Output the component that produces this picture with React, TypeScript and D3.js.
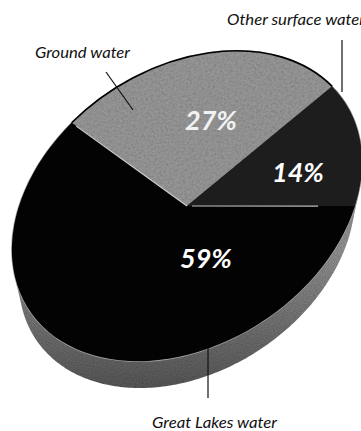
import React from "react";
import * as d3 from "d3";

// ---- data ----
const categories = ["Ground water", "Other surface water", "Great Lakes water"];
const values = [27, 14, 59];
const valueLabels = ["27%", "14%", "59%"];

// ---- styles / layout ----
const sliceColors = ["#a3a3a3", "#1d1d1d", "#030303"];
const W = 361;
const H = 431;
const CX = 187;
const CY = 206;
const RA = 189; // semi-major axis of the tilted disc
const RB = 138; // semi-minor axis
const TILT = (-33.4 * Math.PI) / 180;
const START = (-15.5 * Math.PI) / 180;
const DEPTH = 33; // drop of the bottom face
const BOTTOM_SCALE = 0.96; // perspective shrink of the bottom face
const R0 = 100;

const valueLabelPos: [number, number][] = [
  [211, 119],
  [298, 171],
  [206, 257],
];
const nameLabelPos: { x: number; y: number; len: number }[] = [
  { x: 35, y: 58, len: 95 },
  { x: 227, y: 25, len: 138 },
  { x: 152, y: 428, len: 125 },
];
const leaders: [number, number, number, number][] = [
  [106, 72, 133, 110],
  [342, 40, 342, 92],
  [208, 348, 208, 398],
];

const e1 = [Math.cos(TILT), Math.sin(TILT)];
const e2 = [-Math.sin(TILT), Math.cos(TILT)];
const k1 = RA / R0;
const k2 = RB / R0;
const mat = `matrix(${k1 * e1[0]},${k1 * e1[1]},${k2 * e2[0]},${k2 * e2[1]},${CX},${CY})`;

function project(x: number, y: number, s = 1, dy = 0): [number, number] {
  return [
    CX + s * (k1 * x * e1[0] + k2 * y * e2[0]),
    CY + dy + s * (k1 * x * e1[1] + k2 * y * e2[1]),
  ];
}

export default function App() {
  const pie = d3
    .pie<number>()
    .sort(null)
    .startAngle(START)
    .endAngle(START + 2 * Math.PI);
  const arcs = pie(values);
  const arcGen = d3.arc<d3.PieArcDatum<number>>().innerRadius(0).outerRadius(R0);
  const fullCircle = d3.arc()({
    innerRadius: 0,
    outerRadius: R0,
    startAngle: 0,
    endAngle: 2 * Math.PI,
  } as any) as string;
  const groundRim = d3.arc()({
    innerRadius: R0,
    outerRadius: R0,
    startAngle: arcs[0].startAngle,
    endAngle: arcs[0].endAngle,
  } as any) as string;

  // side wall: convex hull of top and (shrunken, lowered) bottom face outlines
  const pts: [number, number][] = [];
  for (let i = 0; i < 360; i++) {
    const a = (i * Math.PI) / 180;
    pts.push(project(R0 * Math.cos(a), R0 * Math.sin(a)));
    pts.push(project(R0 * Math.cos(a), R0 * Math.sin(a), BOTTOM_SCALE, DEPTH));
  }
  const hull = d3.polygonHull(pts) as [number, number][];
  const hullPath = "M" + hull.map((p) => p.join(",")).join("L") + "Z";

  const radial = (a: number, r: number) => project(r * R0 * Math.sin(a), -r * R0 * Math.cos(a));
  const b1 = radial(arcs[0].startAngle, 0.96);
  const b3 = radial(arcs[1].endAngle, 0.78);

  const font = "Lato, 'Open Sans', 'DejaVu Sans', sans-serif";

  return (
    <svg width={W} height={H} style={{ position: "absolute", left: 0, top: 0, background: "#fff" }}>
      <defs>
        <linearGradient id="band" gradientUnits="userSpaceOnUse" x1="0" y1="250" x2="0" y2="392">
          <stop offset="0" stopColor="#9a9a9a" />
          <stop offset="0.55" stopColor="#777" />
          <stop offset="1" stopColor="#5a5a5a" />
        </linearGradient>
        <filter id="grain" x="0" y="0" width="100%" height="100%">
          <feTurbulence type="fractalNoise" baseFrequency="0.9" numOctaves="1" seed="3" result="n" />
          <feColorMatrix in="n" type="saturate" values="0" result="g" />
          <feComposite in="g" in2="SourceGraphic" operator="in" result="gm" />
          <feBlend in="SourceGraphic" in2="gm" mode="multiply" />
        </filter>
      </defs>

      {/* side wall */}
      <path d={hullPath} fill="url(#band)" filter="url(#grain)" />

      {/* top face */}
      <path d={fullCircle} transform={mat} fill="#030303" stroke="#a8a8a8" strokeWidth={1.5} vectorEffect="non-scaling-stroke" />
      {arcs.map((a, i) => (
        <path
          key={categories[i]}
          d={arcGen(a) as string}
          transform={mat}
          fill={sliceColors[i]}
          filter={i === 0 ? "url(#grain)" : undefined}
        />
      ))}
      <path d={groundRim} transform={mat} fill="none" stroke="#000" strokeWidth={1.6} vectorEffect="non-scaling-stroke" />
      <line x1={CX} y1={CY} x2={b1[0]} y2={b1[1]} stroke="#d4d4d4" strokeWidth={1.2} />
      <line x1={CX + 5} y1={CY} x2={b3[0]} y2={b3[1]} stroke="#bdbdbd" strokeWidth={1.2} />

      {/* value labels */}
      {valueLabels.map((t, i) => (
        <text
          key={t}
          x={valueLabelPos[i][0]}
          y={valueLabelPos[i][1]}
          textAnchor="middle"
          dominantBaseline="central"
          fill={i === 0 ? "#f2f2f2" : "#fff"}
          fontFamily={font}
          fontWeight={700}
          fontStyle="italic"
          fontSize={27}
        >
          {t}
        </text>
      ))}

      {/* leader lines */}
      {leaders.map((l, i) => (
        <line key={i} x1={l[0]} y1={l[1]} x2={l[2]} y2={l[3]} stroke="#111" strokeWidth={1.2} />
      ))}

      {/* category labels */}
      {categories.map((c, i) => (
        <text
          key={c}
          x={nameLabelPos[i].x}
          y={nameLabelPos[i].y}
          fill="#111"
          fontFamily={font}
          fontStyle="italic"
          fontSize={16}
          textLength={nameLabelPos[i].len}
          lengthAdjust="spacingAndGlyphs"
        >
          {c}
        </text>
      ))}
    </svg>
  );
}
